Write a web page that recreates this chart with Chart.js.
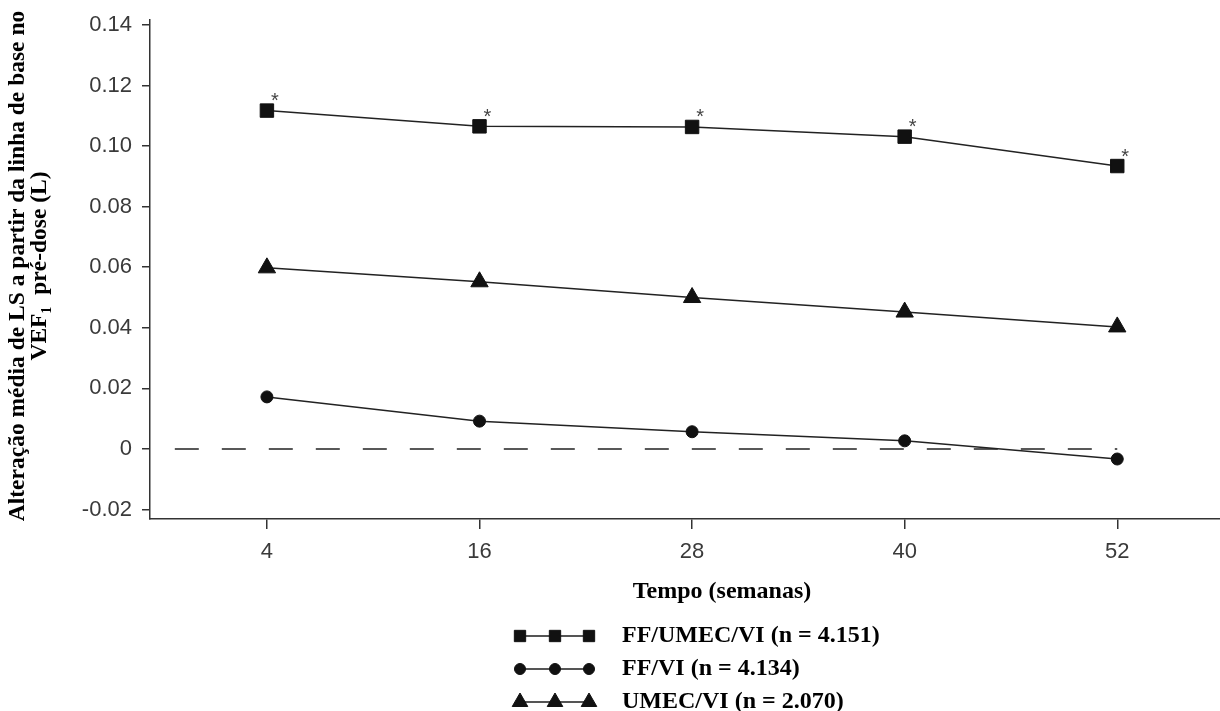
<!DOCTYPE html>
<html>
<head>
<meta charset="utf-8">
<script src="https://cdn.jsdelivr.net/npm/chart.js@4.4.0/dist/chart.umd.min.js"></script>
<style>
  html, body { margin: 0; padding: 0; background: #fff; overflow: hidden; }
  #fev1-chart { display: block; }
</style>
</head>
<body>
<canvas id="fev1-chart" width="1220" height="711"></canvas>
<script>
// dados do grafico
var weeks = [4, 16, 28, 40, 52];
var ffUmecVi = [0.1117, 0.1065, 0.1063, 0.1031, 0.0934];
var ffVi = [0.0172, 0.0092, 0.0057, 0.0027, -0.0033];
var umecVi = [0.0598, 0.0552, 0.0500, 0.0452, 0.0403];
var seriesNames = ['FF/UMEC/VI (n = 4.151)', 'FF/VI (n = 4.134)', 'UMEC/VI (n = 2.070)'];
var significant = [true, true, true, true, true]; // * no FF/UMEC/VI
var yTicks = [-0.02, 0, 0.02, 0.04, 0.06, 0.08, 0.10, 0.12, 0.14];
var refLineX = [-1.2, 52];
var xTitle = 'Tempo (semanas)';
var yTitle = ['Alteração média de LS a partir da linha de base no', 'VEF\u2081  pré-dose (L)'];

var serif = '"Liberation Serif", "Times New Roman", serif';
var sans = '"Liberation Sans", Arial, sans-serif';
var ink = '#222';

function toPoints(values) {
  return weeks.map(function (w, i) { return { x: w, y: values[i] }; });
}

var styles = [
  { pointStyle: 'rect', radius: 9.5, legendRadius: 8 },
  { pointStyle: 'circle', radius: 6, legendRadius: 5.5 },
  { pointStyle: 'triangle', radius: 10, legendRadius: 9 }
];

// titulos, legenda e asteriscos
var decorPlugin = {
  id: 'decor',
  afterDatasetsDraw: function (chart) {
    var ctx = chart.ctx;
    var meta = chart.getDatasetMeta(0);
    ctx.save();
    ctx.fillStyle = '#444';
    ctx.font = '20px ' + sans;
    ctx.textAlign = 'center';
    ctx.textBaseline = 'middle';
    meta.data.forEach(function (pt, i) {
      if (significant[i]) ctx.fillText('*', pt.x + 8, pt.y - 9);
    });
    ctx.restore();
  },
  afterDraw: function (chart) {
    var ctx = chart.ctx;
    ctx.save();
    ctx.fillStyle = '#000';
    ctx.font = 'bold 23.5px ' + serif;
    ctx.textAlign = 'center';
    ctx.textBaseline = 'middle';

    // titulo eixo y
    ctx.save();
    ctx.translate(0, 266);
    ctx.rotate(-Math.PI / 2);
    ctx.fillText(yTitle[0], 0, 18);
    ctx.fillText(yTitle[1], 0, 40);
    ctx.restore();

    // titulo eixo x
    ctx.font = 'bold 24px ' + serif;
    ctx.fillText(xTitle, 722, 592);

    // legenda
    var rows = [636, 669, 702];
    var marks = [520, 555, 589];
    ctx.textAlign = 'left';
    seriesNames.forEach(function (name, i) {
      var y = rows[i];
      ctx.strokeStyle = '#555';
      ctx.lineWidth = 2;
      ctx.beginPath();
      ctx.moveTo(marks[0], y);
      ctx.lineTo(marks[2], y);
      ctx.stroke();
      ctx.fillStyle = '#111';
      ctx.strokeStyle = '#111';
      ctx.lineWidth = 1;
      marks.forEach(function (mx) {
        Chart.helpers.drawPoint(ctx, { pointStyle: styles[i].pointStyle, radius: styles[i].legendRadius, rotation: 0, borderWidth: 1 }, mx, y);
      });
      ctx.fillStyle = '#000';
      ctx.fillText(name, 622, y);
    });
    ctx.restore();
  }
};

function seriesDataset(label, values, i) {
  return {
    label: label,
    data: toPoints(values),
    borderColor: ink,
    borderWidth: 1.5,
    backgroundColor: '#111',
    pointBackgroundColor: '#111',
    pointBorderColor: '#111',
    pointBorderWidth: 1,
    pointStyle: styles[i].pointStyle,
    pointRadius: styles[i].radius,
    pointHoverRadius: styles[i].radius,
    tension: 0,
    fill: false
  };
}

var fev1Chart = new Chart(document.getElementById('fev1-chart'), {
  type: 'line',
  data: {
    datasets: [
      seriesDataset(seriesNames[0], ffUmecVi, 0),
      seriesDataset(seriesNames[1], ffVi, 1),
      seriesDataset(seriesNames[2], umecVi, 2),
      {
        label: 'zero',
        data: refLineX.map(function (x) { return { x: x, y: 0 }; }),
        borderColor: ink,
        borderWidth: 1.5,
        borderDash: [24, 23],
        pointRadius: 0,
        fill: false
      }
    ]
  },
  options: {
    responsive: false,
    animation: false,
    layout: { autoPadding: false, padding: { top: 20, right: 0, bottom: 132, left: 0 } },
    plugins: {
      legend: { display: false },
      tooltip: { enabled: false }
    },
    scales: {
      x: {
        type: 'linear',
        min: -2.6,
        max: 57.8,
        afterBuildTicks: function (scale) {
          scale.ticks = weeks.map(function (v) { return { value: v }; });
        },
        afterFit: function (scale) {
          scale.height = 60;
          scale.paddingLeft = 0;
          scale.paddingRight = 0;
        },
        grid: { drawOnChartArea: false, tickLength: 10, tickColor: '#333', lineWidth: 1.5 },
        border: { color: '#333', width: 1.5 },
        ticks: {
          color: '#3a3a3a',
          font: { family: sans, size: 22 },
          padding: 10,
          maxRotation: 0,
          callback: function (v) { return String(v); }
        }
      },
      y: {
        min: -0.0231,
        max: 0.1416,
        afterBuildTicks: function (scale) {
          scale.ticks = yTicks.map(function (v) { return { value: v }; });
        },
        afterFit: function (scale) {
          scale.width = 150;
          scale.paddingTop = 0;
          scale.paddingBottom = 0;
        },
        grid: { drawOnChartArea: false, tickLength: 8, tickColor: '#333', lineWidth: 1.5 },
        border: { color: '#333', width: 1.5 },
        ticks: {
          color: '#3a3a3a',
          font: { family: sans, size: 22 },
          padding: 10,
          callback: function (v) { return v === 0 ? '0' : v.toFixed(2); }
        }
      }
    }
  },
  plugins: [decorPlugin]
});
</script>
</body>
</html>
